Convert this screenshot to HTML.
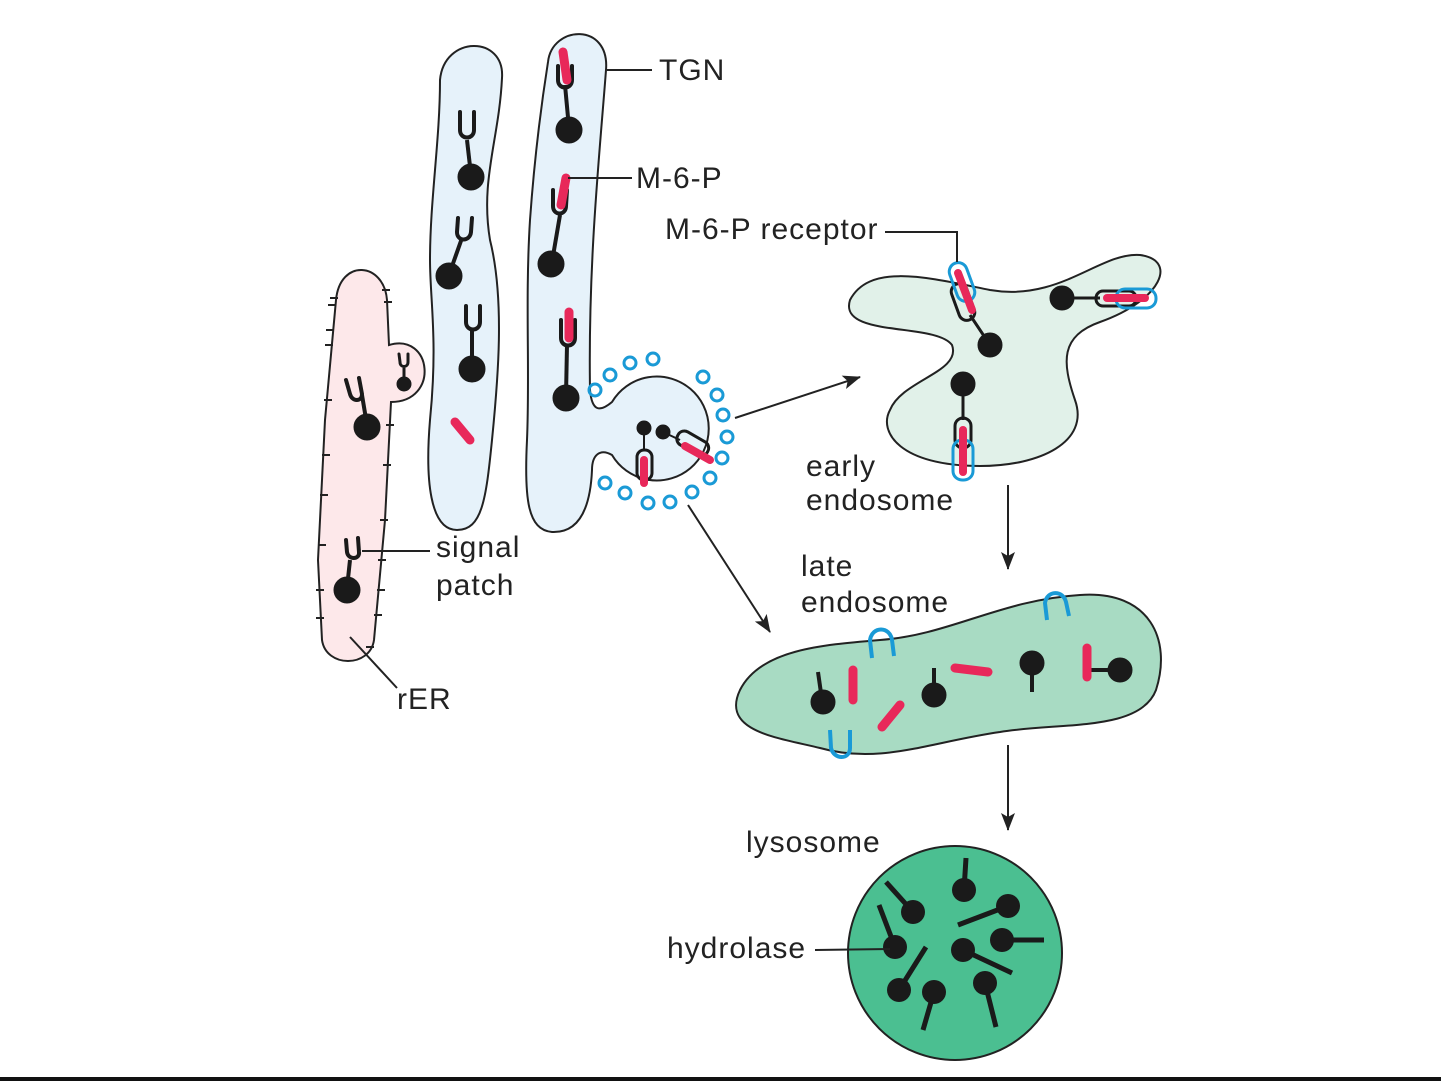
<!DOCTYPE html>
<html><head><meta charset="utf-8"><style>
html,body{margin:0;padding:0;background:#fff;}
svg{display:block;}
text{font-family:"Liberation Sans",Arial,sans-serif;font-size:30px;letter-spacing:1px;fill:#222;}
</style></head><body>
<svg width="1441" height="1081" viewBox="0 0 1441 1081" xmlns="http://www.w3.org/2000/svg">
<defs>
<marker id="ah" markerWidth="18" markerHeight="14" refX="17" refY="7" orient="auto" markerUnits="userSpaceOnUse">
<path d="M0,0 L18,7 L0,14 L4,7 Z" fill="#222"/></marker>
</defs>
<rect x="0" y="1077" width="1441" height="4" fill="#111"/>

<!-- rER -->
<path d="M336,300 C340,258 384,262 387,300 L389,345 C432,332 440,402 391,402 L385,520 L374,640 C370,668 326,668 322,640 L318,560 L325,420 Z" fill="#fde8ea" stroke="#222" stroke-width="2"/>
<g stroke="#222" stroke-width="2">
<line x1="330" y1="298" x2="338" y2="298"/><line x1="328" y1="305" x2="336" y2="305"/>
<line x1="382" y1="290" x2="390" y2="290"/><line x1="384" y1="302" x2="392" y2="302"/>
<line x1="326" y1="330" x2="334" y2="330"/><line x1="325" y1="345" x2="333" y2="345"/>
<line x1="386" y1="425" x2="394" y2="425"/><line x1="324" y1="400" x2="332" y2="400"/>
<line x1="322" y1="455" x2="330" y2="455"/><line x1="383" y1="465" x2="391" y2="465"/>
<line x1="320" y1="495" x2="328" y2="495"/><line x1="380" y1="520" x2="388" y2="520"/>
<line x1="318" y1="545" x2="326" y2="545"/><line x1="378" y1="560" x2="386" y2="560"/>
<line x1="316" y1="590" x2="324" y2="590"/><line x1="377" y1="590" x2="385" y2="590"/>
<line x1="316" y1="618" x2="324" y2="618"/><line x1="374" y1="615" x2="382" y2="615"/>
<line x1="366" y1="647" x2="374" y2="647"/>
</g>

<!-- Golgi cisterna -->
<path d="M440,80 C444,35 505,35 502,78 C499,140 480,180 490,240 C505,300 498,380 492,440 C486,500 482,530 457,530 C430,530 425,480 430,420 C438,340 430,300 430,260 C430,200 440,140 440,80 Z" fill="#e6f2fa" stroke="#222" stroke-width="2"/>

<!-- TGN -->
<path d="M548,62 C552,25 610,22 606,70 C600,150 588,260 590,390 C592,412 600,412 612,402 A52,52 0 1 1 612,455 C600,448 592,455 592,470 C590,515 575,533 552,532 C528,530 524,500 527,440 C530,370 525,300 530,220 C535,150 542,100 548,62 Z" fill="#e6f2fa" stroke="#222" stroke-width="2"/>

<!-- early endosome -->
<path d="M850,300 C870,262 930,278 990,290 C1060,302 1100,252 1140,255 C1178,260 1162,300 1100,322 C1060,336 1062,362 1075,400 C1090,442 1040,466 980,466 C900,466 878,432 890,410 C902,380 962,372 952,345 C935,322 838,338 850,300 Z" fill="#e1f1e9" stroke="#222" stroke-width="2"/>

<!-- late endosome -->
<path d="M740,690 C760,650 820,645 880,640 C950,635 1000,600 1080,595 C1150,590 1172,640 1156,690 C1140,732 1060,722 1000,732 C930,742 880,765 820,748 C780,738 720,732 740,690 Z" fill="#a8dbc3" stroke="#222" stroke-width="2"/>

<!-- lysosome -->
<circle cx="955" cy="953" r="107" fill="#4bbf91" stroke="#222" stroke-width="2"/>

<g fill="#1a1a1a" stroke="#1a1a1a">
<line x1="362" y1="395" x2="367" y2="425" stroke-width="4"/><circle cx="367" cy="427" r="13"/>
<line x1="404" y1="368" x2="404" y2="382" stroke-width="3"/><circle cx="404" cy="384" r="7"/>
<line x1="350" y1="560" x2="347" y2="588" stroke-width="4"/><circle cx="347" cy="590" r="13"/>
<line x1="467" y1="140" x2="471" y2="175" stroke-width="4"/><circle cx="471" cy="177" r="13"/>
<line x1="462" y1="238" x2="450" y2="272" stroke-width="4"/><circle cx="449" cy="276" r="13"/>
<line x1="472" y1="330" x2="472" y2="366" stroke-width="4"/><circle cx="472" cy="369" r="13"/>
<line x1="565" y1="85" x2="569" y2="128" stroke-width="4"/><circle cx="569" cy="130" r="13"/>
<line x1="560" y1="215" x2="552" y2="262" stroke-width="4"/><circle cx="551" cy="264" r="13"/>
<line x1="567" y1="345" x2="566" y2="396" stroke-width="4"/><circle cx="566" cy="398" r="13"/>
</g>
<g fill="none" stroke="#1a1a1a" stroke-width="4" stroke-linecap="round">
<path d="M346,380 L350,394 C352,402 362,402 362,394 L359,378"/>
<path d="M399,354 L400,362 C400,368 408,368 408,362 L408,354" stroke-width="3"/>
<path d="M346,540 L347,552 C348,560 360,560 359,552 L358,538"/>
<path d="M460,112 L460,130 C460,140 474,140 474,130 L474,112"/>
<path d="M458,218 L457,232 C457,242 470,242 471,232 L472,218"/>
<path d="M466,306 L466,322 C466,332 480,332 480,322 L480,306"/>
<path d="M558,66 L558,80 C558,90 572,90 572,80 L572,66"/>
<path d="M553,190 L553,206 C553,216 566,216 566,206 L567,190"/>
<path d="M561,320 L561,338 C561,348 575,348 575,338 L575,320"/>
</g>
<g stroke="#e8285a" stroke-width="9" stroke-linecap="round">
<line x1="563" y1="52" x2="567" y2="80"/>
<line x1="566" y1="178" x2="561" y2="205"/>
<line x1="569" y1="312" x2="569" y2="338"/>
<line x1="455" y1="422" x2="470" y2="440"/>
</g>

<g fill="#1a1a1a" stroke="#1a1a1a">
<circle cx="644" cy="428" r="7"/><line x1="644" y1="428" x2="644" y2="450" stroke-width="2"/>
<circle cx="663" cy="432" r="7"/><line x1="663" y1="432" x2="680" y2="440" stroke-width="2"/>
</g>
<g fill="none" stroke="#1a1a1a" stroke-width="3">
<rect x="637" y="450" width="15" height="30" rx="7"/>
<rect x="676" y="436" width="34" height="15" rx="7" transform="rotate(30 693 443)"/>
</g>
<g stroke="#e8285a" stroke-width="8" stroke-linecap="round">
<line x1="644" y1="460" x2="644" y2="483"/>
<line x1="685" y1="446" x2="710" y2="460"/>
</g>
<g fill="none" stroke="#1a9ad6" stroke-width="3">
<circle cx="595" cy="390" r="6"/><circle cx="610" cy="375" r="6"/><circle cx="630" cy="363" r="6"/><circle cx="653" cy="359" r="6"/>
<circle cx="703" cy="377" r="6"/><circle cx="717" cy="395" r="6"/><circle cx="723" cy="415" r="6"/><circle cx="727" cy="437" r="6"/>
<circle cx="722" cy="458" r="6"/><circle cx="710" cy="478" r="6"/><circle cx="692" cy="492" r="6"/><circle cx="670" cy="502" r="6"/>
<circle cx="648" cy="503" r="6"/><circle cx="625" cy="493" r="6"/><circle cx="605" cy="483" r="6"/>
</g>

<g fill="#1a1a1a" stroke="#1a1a1a">
<line x1="970" y1="315" x2="988" y2="342" stroke-width="3"/><circle cx="990" cy="345" r="12"/>
<circle cx="1062" cy="298" r="12"/><line x1="1062" y1="298" x2="1100" y2="298" stroke-width="3"/>
<circle cx="963" cy="384" r="12"/><line x1="963" y1="384" x2="963" y2="420" stroke-width="3"/>
</g>
<g fill="none" stroke="#1a1a1a" stroke-width="3">
<rect x="955" y="283" width="16" height="38" rx="8" transform="rotate(-20 963 302)"/>
<rect x="1096" y="291" width="40" height="15" rx="7"/>
<rect x="955" y="418" width="16" height="30" rx="8"/>
</g>
<g fill="none" stroke="#1a9ad6" stroke-width="3">
<rect x="953" y="262" width="18" height="40" rx="9" transform="rotate(-20 962 282)"/>
<rect x="1116" y="289" width="40" height="19" rx="9"/>
<rect x="953" y="440" width="20" height="40" rx="9"/>
</g>
<g stroke="#e8285a" stroke-width="8" stroke-linecap="round">
<line x1="958" y1="273" x2="972" y2="310"/>
<line x1="1107" y1="298" x2="1145" y2="298"/>
<line x1="963" y1="430" x2="963" y2="472"/>
</g>

<g fill="#1a1a1a" stroke="#1a1a1a">
<line x1="818" y1="672" x2="822" y2="700" stroke-width="4"/><circle cx="823" cy="702" r="12"/>
<line x1="934" y1="668" x2="934" y2="692" stroke-width="4"/><circle cx="934" cy="695" r="12"/>
<circle cx="1032" cy="663" r="12"/><line x1="1032" y1="663" x2="1032" y2="692" stroke-width="4"/>
<circle cx="1120" cy="670" r="12"/><line x1="1088" y1="670" x2="1120" y2="670" stroke-width="4"/>
</g>
<g stroke="#e8285a" stroke-width="9" stroke-linecap="round">
<line x1="853" y1="670" x2="853" y2="700"/>
<line x1="900" y1="705" x2="882" y2="727"/>
<line x1="955" y1="668" x2="988" y2="672"/>
<line x1="1087" y1="648" x2="1087" y2="677"/>
</g>
<g fill="none" stroke="#1a9ad6" stroke-width="4">
<path d="M872,658 L870,640 C872,626 890,626 892,640 L894,656"/>
<path d="M1047,620 L1045,603 C1047,590 1063,590 1066,602 L1069,616"/>
<path d="M830,730 L831,748 C834,760 850,760 850,748 L850,730"/>
</g>

<g fill="#1a1a1a" stroke="#1a1a1a" stroke-width="5">
<line x1="913" y1="912" x2="886" y2="882"/><circle cx="913" cy="912" r="12" stroke="none"/>
<line x1="964" y1="890" x2="966" y2="858"/><circle cx="964" cy="890" r="12" stroke="none"/>
<line x1="1008" y1="906" x2="958" y2="925"/><circle cx="1008" cy="906" r="12" stroke="none"/>
<line x1="895" y1="947" x2="879" y2="905"/><circle cx="895" cy="947" r="12" stroke="none"/>
<line x1="1002" y1="940" x2="1044" y2="940"/><circle cx="1002" cy="940" r="12" stroke="none"/>
<line x1="963" y1="950" x2="1012" y2="973"/><circle cx="963" cy="950" r="12" stroke="none"/>
<line x1="899" y1="990" x2="926" y2="947"/><circle cx="899" cy="990" r="12" stroke="none"/>
<line x1="934" y1="992" x2="923" y2="1030"/><circle cx="934" cy="992" r="12" stroke="none"/>
<line x1="985" y1="983" x2="996" y2="1027"/><circle cx="985" cy="983" r="12" stroke="none"/>
</g>

<g stroke="#222" stroke-width="2" fill="none">
<line x1="735" y1="418" x2="860" y2="377" marker-end="url(#ah)"/>
<line x1="688" y1="505" x2="770" y2="632" marker-end="url(#ah)"/>
<line x1="1008" y1="485" x2="1008" y2="569" marker-end="url(#ah)"/>
<line x1="1008" y1="745" x2="1008" y2="830" marker-end="url(#ah)"/>
</g>
<g stroke="#222" stroke-width="2" fill="none">
<line x1="607" y1="70" x2="652" y2="70"/>
<line x1="568" y1="178" x2="632" y2="178"/>
<polyline points="885,232 957,232 957,262"/>
<line x1="362" y1="551" x2="430" y2="551"/>
<line x1="397" y1="688" x2="350" y2="637"/>
<line x1="815" y1="950" x2="890" y2="949"/>
</g>

<text x="659" y="80">TGN</text>
<text x="636" y="188">M-6-P</text>
<text x="665" y="239">M-6-P receptor</text>
<text x="806" y="476">early</text>
<text x="806" y="510">endosome</text>
<text x="801" y="576">late</text>
<text x="801" y="612">endosome</text>
<text x="436" y="557">signal</text>
<text x="436" y="595">patch</text>
<text x="397" y="709">rER</text>
<text x="746" y="852">lysosome</text>
<text x="667" y="958">hydrolase</text>
</svg>
</body></html>
